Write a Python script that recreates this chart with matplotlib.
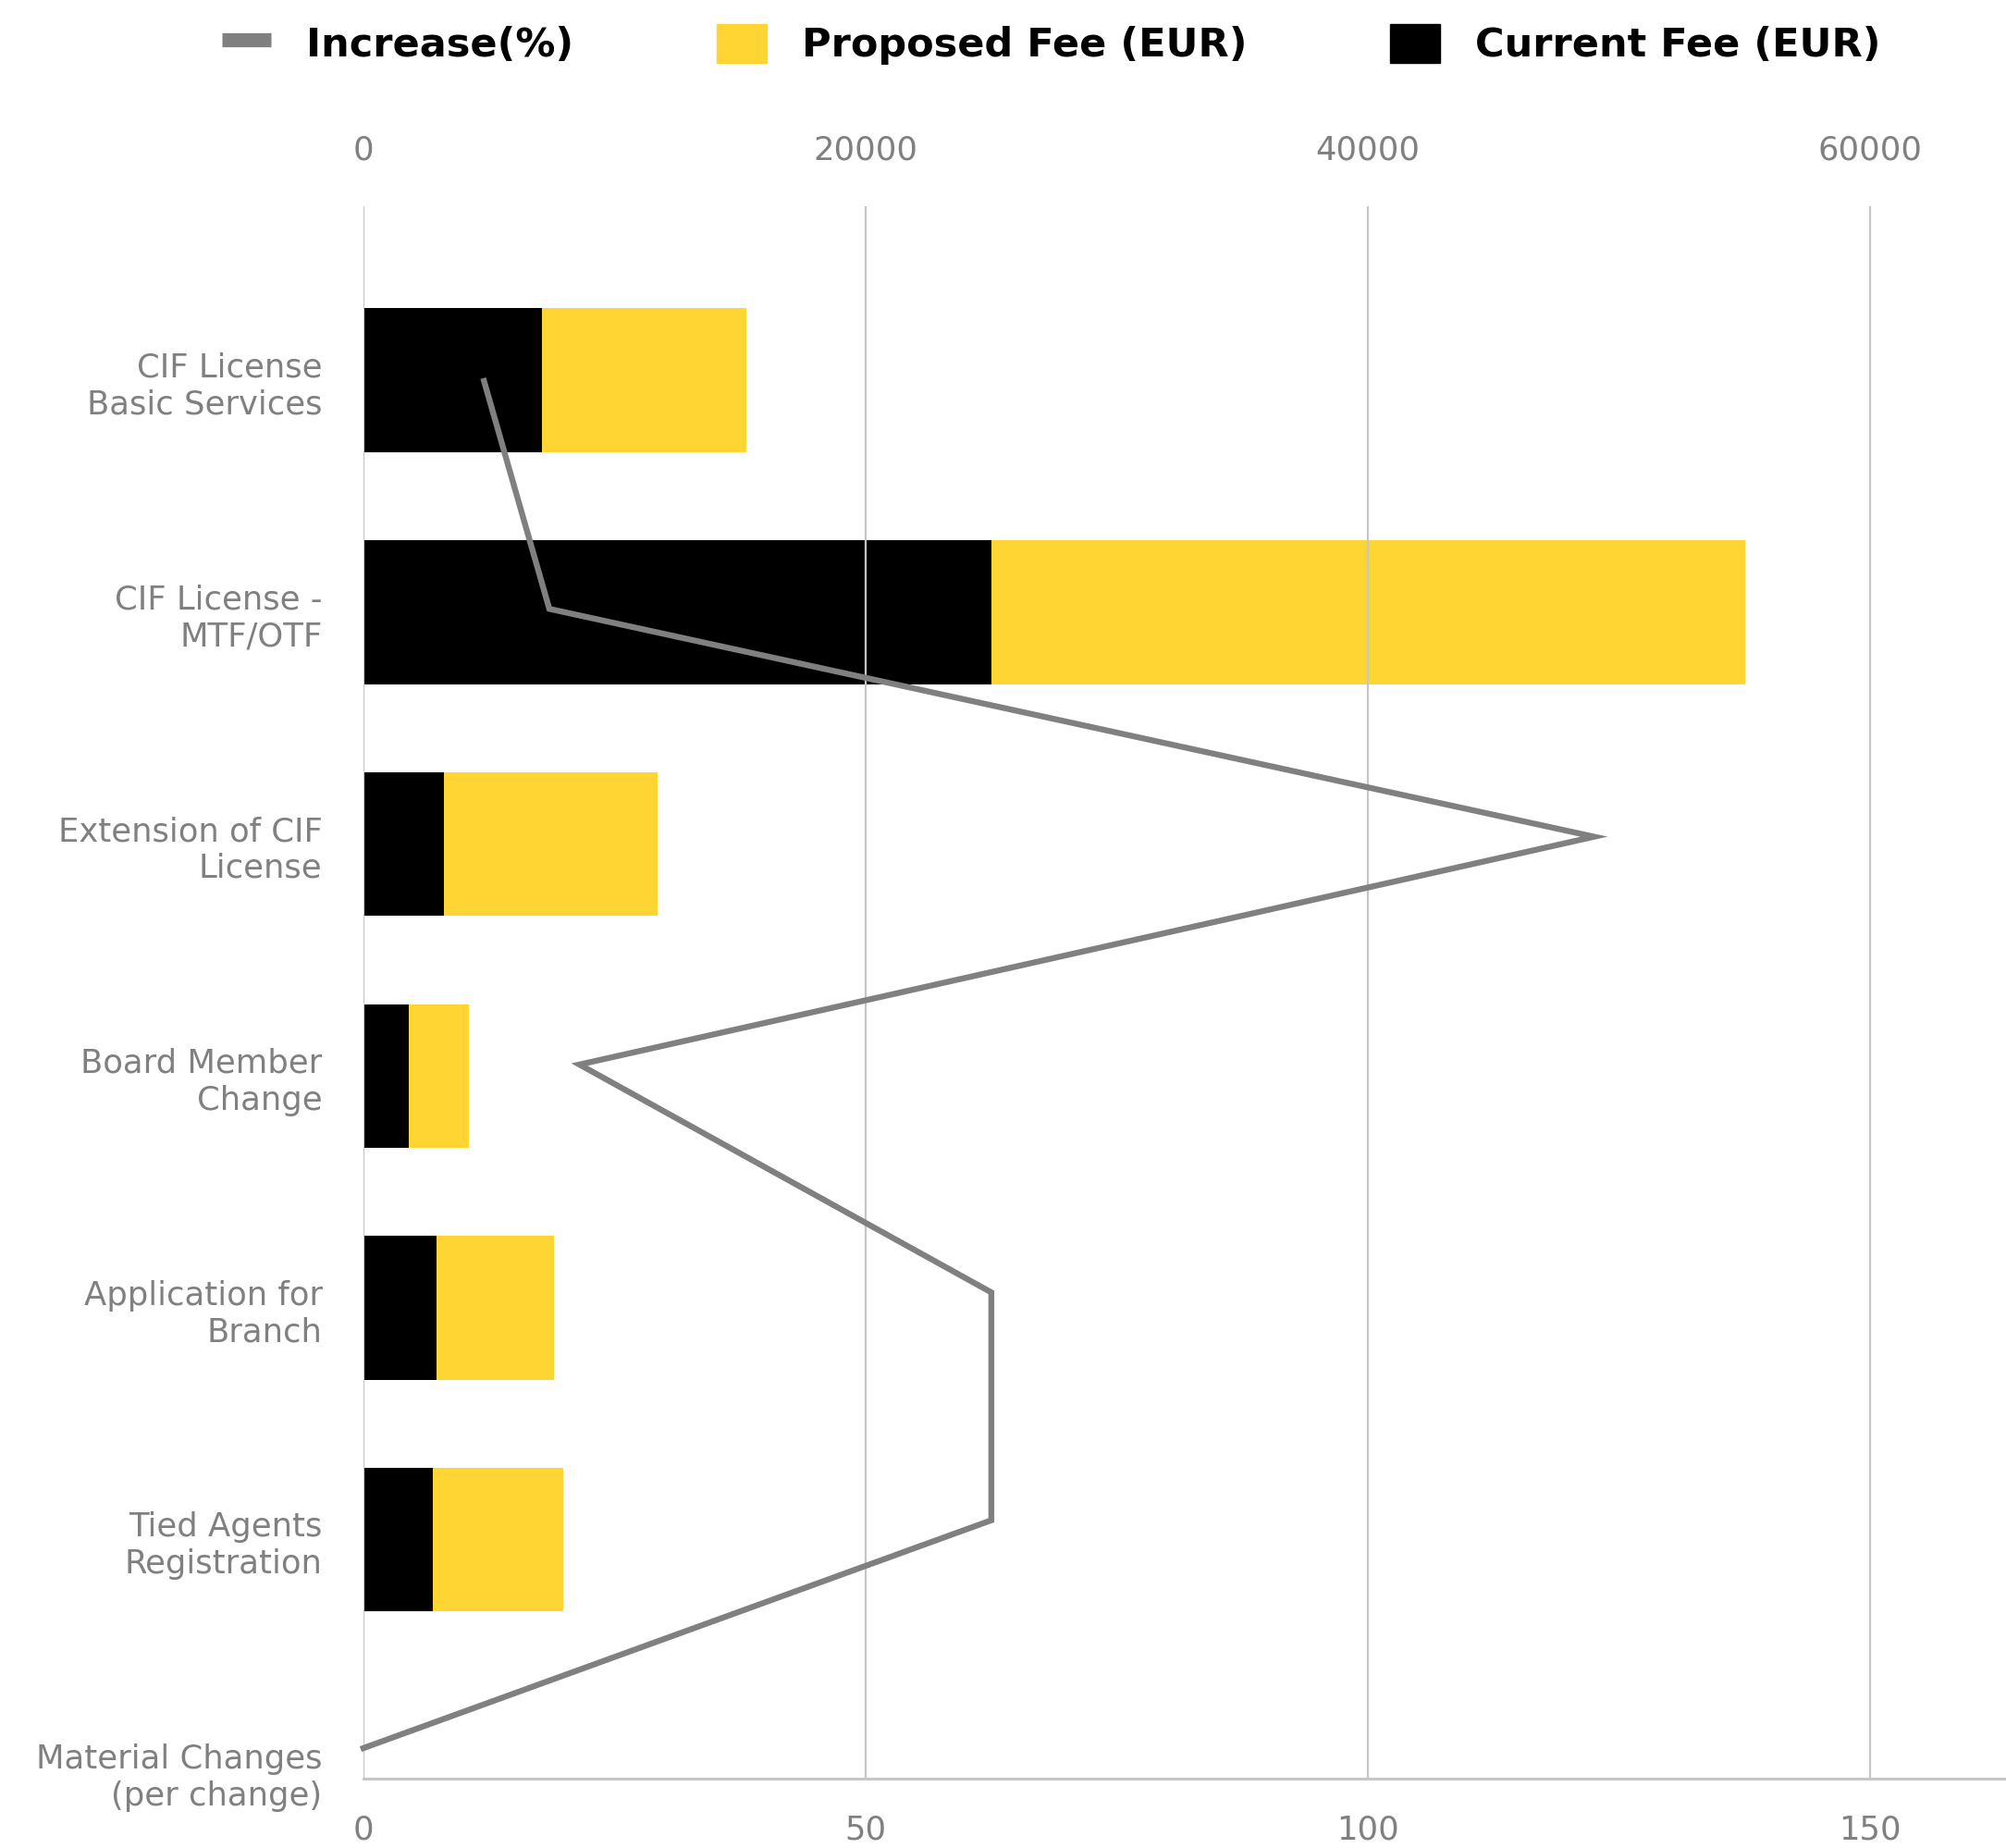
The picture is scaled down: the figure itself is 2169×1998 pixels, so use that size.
import matplotlib.pyplot as plt
from matplotlib.lines import Line2D
from matplotlib.patches import Patch
import numpy as np

categories = ["CIF License\nBasic Services", "CIF License -\nMTF/OTF",
              "Extension of CIF\nLicense", "Board Member\nChange",
              "Application for\nBranch", "Tied Agents\nRegistration",
              "Material Changes\n(per change)"]
current_fee = [7100, 25000, 3200, 1800, 2900, 2750, 0]
proposed_fee = [8150, 30000, 8500, 2400, 4700, 5200, 0]
increase_pct = [12, 18.5, 122.5, 21.5, 62.5, 62.5, 0]
fee_ticks = [0, 20000, 40000, 60000]
pct_ticks = [0, 50, 100, 150]

plt.rcParams['font.family'] = ['DejaVu Sans']

YELLOW = '#FED533'
GREY_TXT = '#808080'
GRID = '#c6c6c6'

W, H = 2169, 1998
fig = plt.figure(figsize=(W / 100, H / 100), dpi=100)
rect = [393 / W, 1 - 1923 / H, 1 - 393 / W, (1923 - 223) / H]

# bars (fee axis on top)
ax = fig.add_axes(rect)
y = np.arange(len(categories))
ax.barh(y, current_fee, height=0.62, color='black')
ax.barh(y, proposed_fee, left=current_fee, height=0.62, color=YELLOW)
ax.set_xlim(0, 65400)
ax.set_ylim(6.03, -0.75)
ax.xaxis.tick_top()
ax.set_xticks(fee_ticks)
ax.set_yticks(y)
ax.set_yticklabels(categories, color=GREY_TXT, fontsize=25.5, linespacing=1.22)
ax.tick_params(axis='x', length=0, pad=31, labelsize=25.5, labelcolor=GREY_TXT)
ax.tick_params(axis='y', length=0, pad=32)
for s in ax.spines.values():
    s.set_visible(False)

# increase line (percent axis at bottom)
ax2 = fig.add_axes(rect, facecolor='none')
ax2.plot(increase_pct, np.arange(len(increase_pct)), color='#808080', lw=4.6,
         solid_joinstyle='miter', clip_on=False, zorder=3)
ax2.set_xlim(0, 163.5)
ax2.set_ylim(6.134, -0.767)
ax2.set_xticks(pct_ticks)
ax2.set_yticks([])
ax2.tick_params(axis='x', length=0, pad=28, labelsize=25.5, labelcolor=GREY_TXT)
ax2.grid(axis='x', color=GRID, lw=1.6, zorder=4)
ax2.set_axisbelow(False)
for k in ['top', 'right', 'left']:
    ax2.spines[k].set_visible(False)
ax2.spines['bottom'].set_color(GRID)
ax2.spines['bottom'].set_linewidth(2.2)

handles = [Line2D([], [], color='#808080', lw=11, solid_capstyle='butt'),
           Patch(color=YELLOW), Patch(color='black')]
labels = ['Increase(%)', 'Proposed Fee (EUR)', 'Current Fee (EUR)']
fig.legend(handles, labels, loc='center', bbox_to_anchor=(0.524, 1 - 48 / H),
           ncol=3, frameon=False, prop={'size': 31, 'weight': 'bold'},
           handlelength=1.24, handleheight=1.13, handletextpad=0.88,
           columnspacing=3.6)

fig.savefig('out.png', dpi=100)
